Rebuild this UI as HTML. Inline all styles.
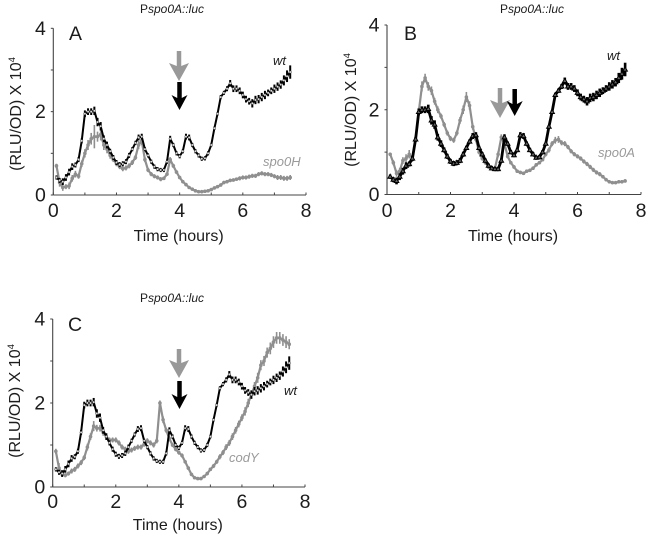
<!DOCTYPE html>
<html>
<head>
<meta charset="utf-8">
<title>Pspo0A::luc expression panels</title>
<style>
html,body{margin:0;padding:0;background:#fff;}
svg{display:block;}
text{font-family:"Liberation Sans",Arial,sans-serif;fill:#1c1c1c;}
</style>
</head>
<body>
<svg id="fig" width="651" height="537" viewBox="0 0 651 537" xmlns="http://www.w3.org/2000/svg"></svg>
<script>
const hours = [0.1,0.2,0.3,0.4,0.5,0.6,0.7,0.8,0.9,1.0,1.1,1.2,1.3,1.4,1.5,1.6,1.7,1.8,1.9,2.0,2.1,2.2,2.3,2.4,2.5,2.6,2.7,2.8,2.9,3.0,3.1,3.2,3.3,3.4,3.5,3.6,3.7,3.8,3.9,4.0,4.1,4.2,4.3,4.4,4.5,4.6,4.7,4.8,4.9,5.0,5.1,5.2,5.3,5.4,5.5,5.6,5.7,5.8,5.9,6.0,6.1,6.2,6.3,6.4,6.5,6.6,6.7,6.8,6.9,7.0,7.1,7.2,7.3,7.4,7.5];
const wtValues = [.42,.35,.32,.42,.55,.68,.72,.85,1.3,1.95,2.0,2.0,2.02,1.75,1.65,1.35,1.2,1.05,.9,.78,.73,.75,.8,.95,1.1,1.25,1.38,1.4,1.1,.95,.8,.68,.62,.6,.6,.8,1.35,1.2,1.0,.93,1.05,1.4,1.38,1.2,1.05,.95,.87,.88,1.0,1.2,1.6,1.95,2.35,2.45,2.55,2.68,2.55,2.55,2.5,2.4,2.3,2.25,2.2,2.28,2.3,2.35,2.4,2.45,2.5,2.55,2.6,2.65,2.75,2.85,2.95];
const wtError = [.05,.06,.08,.08,.08,.08,.06,.06,.06,.08,.08,.08,.1,.1,.1,.08,.08,.06,.06,.06,.06,.06,.06,.06,.05,.05,.07,.07,.05,.05,.05,.05,.05,.05,.05,.05,.07,.05,.05,.05,.05,.07,.07,.05,.05,.05,.05,.05,.05,.04,.04,.04,.05,.05,.06,.08,.08,.08,.08,.08,.08,.08,.1,.1,.1,.1,.1,.08,.08,.1,.1,.1,.12,.14,.16];
const spo0HValues = [.7,.3,.18,.2,.22,.4,.5,.45,.75,1.0,1.2,1.35,1.4,1.4,1.45,1.2,1.1,.95,.85,.75,.68,.63,.65,.7,.78,.9,1.2,1.3,.85,.6,.5,.45,.42,.38,.4,.5,.85,.7,.55,.42,.32,.25,.18,.14,.1,.08,.08,.09,.1,.13,.17,.2,.24,.3,.32,.35,.36,.38,.4,.42,.42,.44,.46,.46,.5,.52,.5,.5,.48,.45,.42,.42,.4,.4,.42];
const spo0HError = [.05,.1,.08,.06,.08,.08,.08,.06,.08,.1,.12,.14,.28,.12,.14,.12,.1,.08,.06,.06,.06,.06,.06,.06,.06,.06,.1,.1,.06,.05,.05,.05,.05,.05,.04,.04,.06,.05,.04,.04,.03,.03,.03,.03,.03,.03,.03,.03,.03,.03,.03,.03,.04,.04,.04,.04,.04,.04,.05,.05,.05,.05,.05,.05,.05,.05,.05,.05,.05,.05,.06,.06,.06,.06,.06];
const spo0AValues = [.95,.75,.5,.55,.8,.85,.95,.85,1.3,1.95,2.55,2.75,2.55,2.45,2.2,2.0,1.85,1.65,1.45,1.32,1.28,1.45,1.75,2.0,2.3,2.1,1.6,1.3,1.0,.85,.75,.65,.62,.62,.95,1.35,1.2,.9,.75,.65,.55,.52,.5,.55,.57,.62,.7,.75,.82,.95,1.05,1.2,1.28,1.3,1.22,1.2,1.12,1.02,.95,.9,.85,.78,.72,.65,.58,.52,.48,.42,.35,.3,.28,.28,.3,.3,.32];
const spo0AError = [.04,.06,.08,.08,.08,.1,.1,.08,.08,.1,.12,.1,.1,.1,.08,.08,.06,.06,.06,.06,.06,.06,.08,.1,.12,.1,.07,.06,.05,.05,.05,.05,.05,.05,.07,.07,.07,.05,.04,.04,.04,.04,.04,.04,.04,.04,.04,.04,.04,.05,.06,.06,.08,.08,.06,.06,.05,.05,.05,.05,.05,.05,.05,.05,.05,.05,.05,.04,.04,.04,.04,.04,.04,.04,.04];
const codYValues = [.85,.45,.3,.28,.32,.38,.42,.5,.58,.7,.95,1.2,1.45,1.4,1.4,1.3,1.2,1.12,1.12,1.12,1.05,.95,.9,.85,.88,.92,.95,.95,1.02,1.1,1.05,1.0,1.1,2.0,1.6,1.35,1.15,1.0,.9,.82,.75,.6,.45,.3,.22,.2,.2,.25,.32,.42,.5,.6,.72,.82,.95,1.05,1.2,1.35,1.5,1.65,1.8,2.0,2.2,2.4,2.6,2.9,3.0,3.2,3.3,3.45,3.55,3.55,3.5,3.45,3.4];
const codYError = [.06,.12,.06,.05,.05,.06,.06,.06,.06,.06,.08,.08,.12,.08,.08,.08,.06,.06,.06,.06,.06,.06,.06,.06,.06,.06,.06,.06,.06,.06,.06,.06,.06,.06,.08,.06,.06,.05,.05,.05,.05,.04,.04,.03,.03,.03,.03,.03,.04,.04,.05,.05,.06,.06,.07,.07,.08,.08,.08,.08,.1,.1,.1,.1,.12,.12,.12,.12,.14,.14,.14,.14,.14,.14,.12];
const xTickValues = [0,1,2,3,4,5,6,7,8];
const xTickLabels = ["0","","2","","4","","6","","8"];
const yTickValues = [0,1,2,3,4];
const yTickLabels = ["0","","2","","4"];

const NS = "http://www.w3.org/2000/svg";
const fig = document.getElementById("fig");
function mk(parent, tag, attrs, txt){
  const e = document.createElementNS(NS, tag);
  for (const k in attrs) e.setAttribute(k, attrs[k]);
  if (txt !== undefined) e.textContent = txt;
  parent.appendChild(e);
  return e;
}
function arrow(parent, name, cx, top, bottom, headW, headH, shaftW, color){
  const headTop = bottom - headH;
  const p = mk(parent, "polygon", {
    points: [[cx-shaftW/2,top],[cx+shaftW/2,top],[cx+shaftW/2,headTop+3],[cx+headW/2,headTop],[cx,bottom],[cx-headW/2,headTop],[cx-shaftW/2,headTop+3]].map(a=>a.join(",")).join(" "),
    fill: color
  });
  
  
}
function panel(cfg){
  const g = mk(fig, "g", {});
  
  
  const sx = v => cfg.x0 + (cfg.x8 - cfg.x0) * v / 8;
  const sy = v => cfg.y0 - (cfg.y0 - cfg.y4) * v / 4;

  const title = mk(g, "text", {x: cfg.titleX, y: cfg.titleY, "text-anchor": "middle", "font-size": 12});
  
  
  mk(title, "tspan", {}, "P");
  mk(title, "tspan", {"font-style": "italic"}, "spo0A::luc");

  const xAxis = mk(g, "line", {x1: sx(0), x2: sx(8), y1: cfg.y0, y2: cfg.y0, stroke: "#444", "stroke-width": 1.1});
  
  
  const yAxis = mk(g, "line", {x1: cfg.x0, x2: cfg.x0, y1: cfg.y0, y2: cfg.y4, stroke: "#444", "stroke-width": 1.1});
  
  

  xTickValues.forEach((v, i) => {
    const t = mk(g, "line", {x1: sx(v), x2: sx(v), y1: cfg.y0, y2: cfg.y0 - 2.5, stroke: "#444", "stroke-width": 1});
    
    
    if (xTickLabels[i]) {
      const l = mk(g, "text", {x: sx(v), y: cfg.xLabelY, "text-anchor": "middle", "font-size": 19.5}, xTickLabels[i]);
      
      
    }
  });
  yTickValues.forEach((v, i) => {
    const t = mk(g, "line", {x1: cfg.x0 - 2.5, x2: cfg.x0, y1: sy(v), y2: sy(v), stroke: "#444", "stroke-width": 1});
    
    
    if (yTickLabels[i]) {
      const l = mk(g, "text", {x: cfg.x0 - 7.5, y: sy(v) + 6.5, "text-anchor": "end", "font-size": 19.5}, yTickLabels[i]);
      
      
    }
  });

  const xt = mk(g, "text", {x: (sx(0) + sx(8)) / 2 - 1, y: cfg.xTitleY, "text-anchor": "middle", "font-size": 16}, "Time (hours)");
  
  
  const yt = mk(g, "text", {transform: "translate(" + cfg.yTitleX + "," + cfg.yTitleY + ") rotate(-90)", "text-anchor": "middle", "font-size": 16});
  
  
  mk(yt, "tspan", {}, "(RLU/OD) X 10");
  mk(yt, "tspan", {"font-size": 9.5, dy: -6}, "4");

  const letter = mk(g, "text", {x: cfg.letterX, y: cfg.letterY, "font-size": 19.5}, cfg.letter);
  
  

  const mutantLine = mk(g, "polyline", {
    points: hours.map((h, i) => sx(h) + "," + sy(cfg.mutant[i])).join(" "),
    fill: "none", stroke: "#8f8f8f", "stroke-width": 2.2, "stroke-linejoin": "round"
  });
  
  
  hours.forEach((h, i) => {
    const px = sx(h), py = sy(cfg.mutant[i]);
    const eb = mk(g, "line", {x1: px, x2: px, y1: sy(cfg.mutant[i] + cfg.mutantErr[i]), y2: sy(cfg.mutant[i] - cfg.mutantErr[i]), stroke: "#8f8f8f", "stroke-width": 1.6});
    
    
    const d = mk(g, "circle", {cx: px, cy: py, r: 1.8, fill: "#8f8f8f"});
    
    
  });

  const wtLine = mk(g, "polyline", {
    points: hours.map((h, i) => sx(h) + "," + sy(wtValues[i])).join(" "),
    fill: "none", stroke: "#000", "stroke-width": cfg.triangle ? 2.8 : 2, "stroke-linejoin": "round"
  });
  
  
  hours.forEach((h, i) => {
    const px = sx(h), py = sy(wtValues[i]);
    const eb = mk(g, "line", {x1: px, x2: px, y1: sy(wtValues[i] + wtError[i]), y2: sy(wtValues[i] - wtError[i]), stroke: "#000", "stroke-width": cfg.triangle ? 2.6 : 2});
    
    
    let m;
    if (cfg.triangle) {
      m = mk(g, "polygon", {
        points: px + "," + (py - 2.4) + " " + (px + 2.3) + "," + (py + 1.6) + " " + (px - 2.3) + "," + (py + 1.6),
        fill: "#666", stroke: "#000", "stroke-width": 1
      });
    } else {
      m = mk(g, "circle", {cx: px, cy: py, r: 1.2, fill: "#ddd", stroke: "#333", "stroke-width": 0.5});
    }
    
    
  });

  const wtLab = mk(g, "text", {x: cfg.wtX, y: cfg.wtY, "font-size": 13, "font-style": "italic"}, "wt");
  
  
  const mLab = mk(g, "text", {x: cfg.mX, y: cfg.mY, "font-size": 13, "font-style": "italic", style: "fill:#9a9a9a"}, cfg.mutantName);
  
  

  arrow(g, 'mutant-arrow', cfg.gA[0], cfg.gA[1], cfg.gA[2], 20, 18, 4.5, "#999");
  arrow(g, 'wt-arrow', cfg.bA[0], cfg.bA[1], cfg.bA[2], 16, 15, 4.5, "#000");
}

panel({id:"panel-a", letter:"A", letterX:69, letterY:40, x0:53.3, x8:306, y0:195, y4:28.3, mutant:spo0HValues, mutantErr:spo0HError, mutantName:"spo0H",
  titleX:172, titleY:13, xLabelY:217, xTitleY:241, yTitleX:21, yTitleY:114,
  wtX:273, wtY:65, mX:263, mY:166, gA:[179,51,81], bA:[179.5,82,110], triangle:false});
panel({id:"panel-b", letter:"B", letterX:404, letterY:40, x0:387, x8:641, y0:194.5, y4:25, mutant:spo0AValues, mutantErr:spo0AError, mutantName:"spo0A",
  titleX:532, titleY:13, xLabelY:217, xTitleY:241, yTitleX:356, yTitleY:110,
  wtX:607, wtY:60, mX:598, mY:157, gA:[500,88,118], bA:[514.7,89,116], triangle:true});
panel({id:"panel-c", letter:"C", letterX:68, letterY:331, x0:52.7, x8:305, y0:487, y4:319, mutant:codYValues, mutantErr:codYError, mutantName:"codY",
  titleX:172, titleY:302, xLabelY:508, xTitleY:530, yTitleX:20, yTitleY:401,
  wtX:284, wtY:395, mX:229, mY:462, gA:[179,349,378], bA:[179.5,381,409], triangle:false});
</script>
</body>
</html>
